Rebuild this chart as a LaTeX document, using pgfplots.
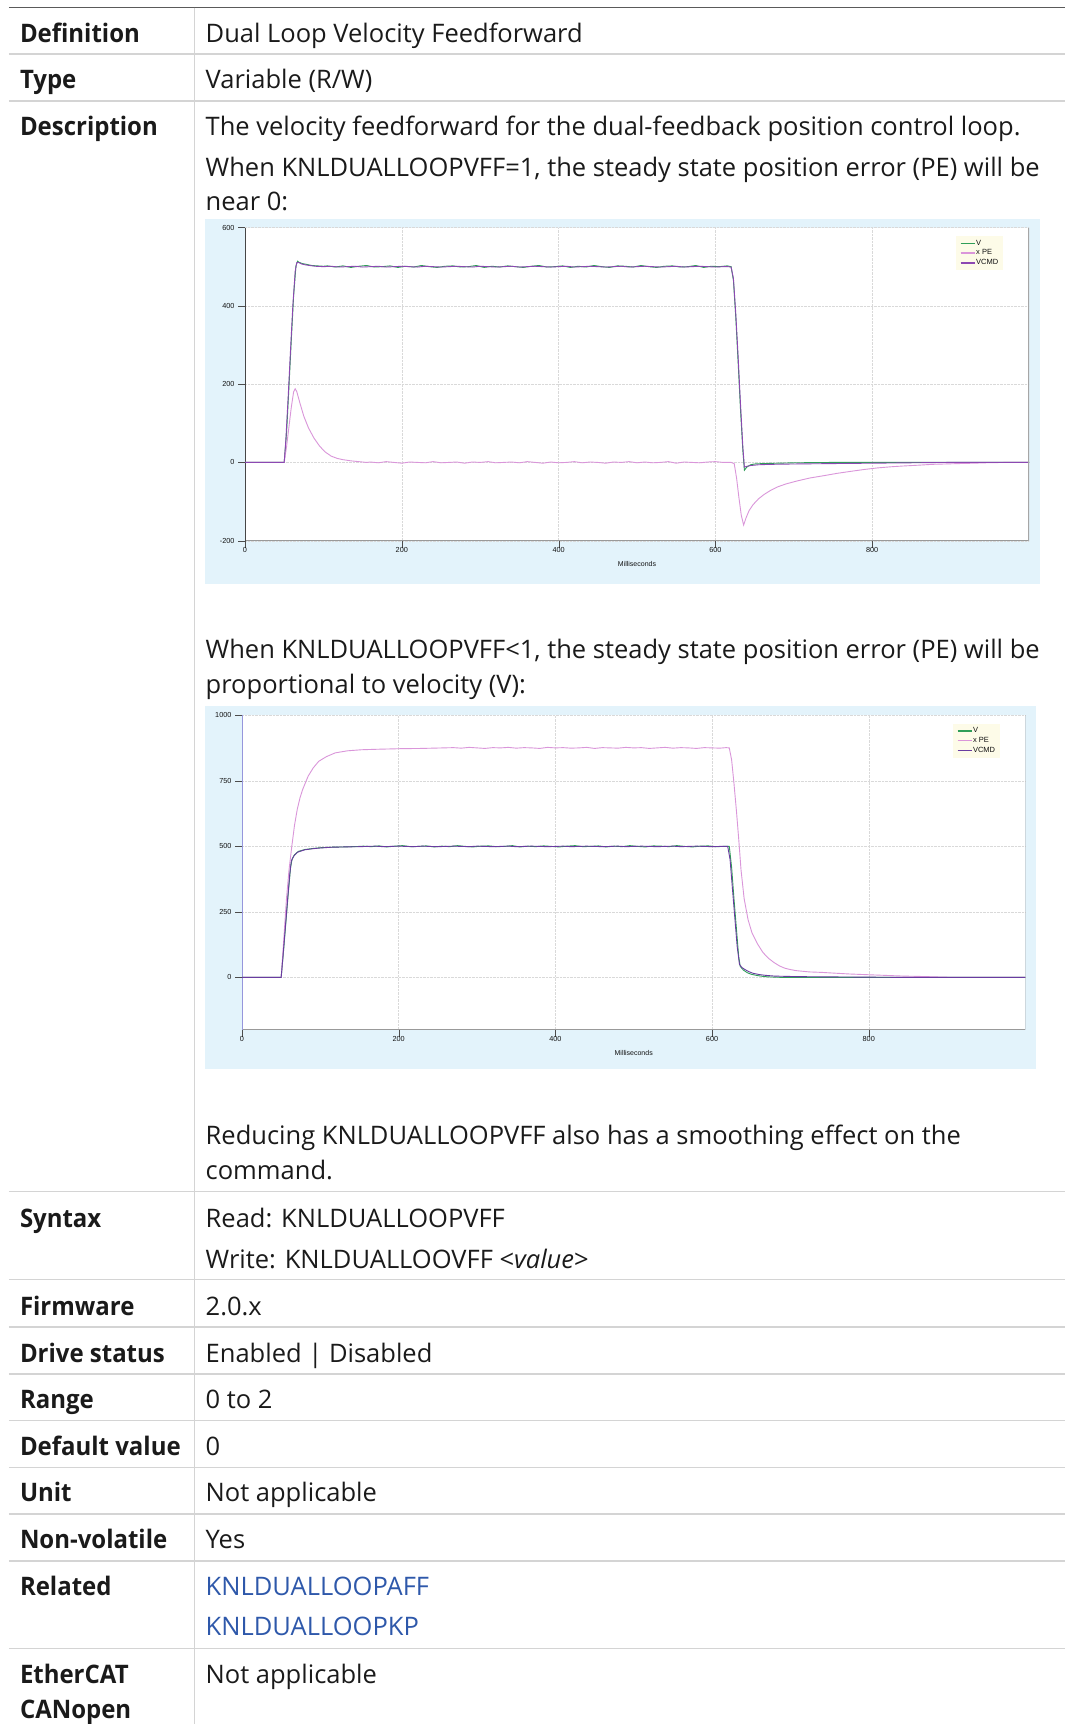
\documentclass[border=0pt]{standalone}
\usepackage{fontspec}
\setmainfont{Open Sans}[FakeStretch=1.0]
\newfontfamily\labfont{Open Sans}[FakeStretch=0.94]
\newfontfamily\tickfont{Liberation Sans}
\usepackage{pgfplots}
\pgfplotsset{compat=1.18}
\definecolor{txt}{RGB}{26,26,26}
\definecolor{sep}{RGB}{212,212,212}
\definecolor{topline}{RGB}{90,90,90}
\definecolor{bgblue}{RGB}{227,243,251}
\definecolor{linkc}{RGB}{46,88,170}
\definecolor{cV}{RGB}{47,158,88}
\definecolor{cPE}{RGB}{218,150,218}
\definecolor{cVC}{RGB}{140,72,178}
\definecolor{cVCb}{RGB}{105,60,160}
\definecolor{lav}{RGB}{150,150,220}
\definecolor{legfill}{RGB}{253,251,232}
\pgfplotsset{
  chart/.style={
    scale only axis, xmin=0, xmax=1000,
    axis x line*=bottom, axis y line*=left, axis line style={-},
    x axis line style={gray!80, line width=1pt},
    tick align=outside, major tick length=7pt,
    xtick={0,200,400,600,800},
    grid=major, grid style={densely dotted, gray!30},
    tick label style={font=\tickfont\fontsize{7.3}{8}\selectfont, text=gray!15!black},
    tick style={gray!60!black},
    xticklabel style={yshift=4pt},
    /pgf/number format/assume math mode=true,
    /pgf/number format/set thousands separator={},
    xlabel={Milliseconds},
    xlabel style={at={(axis description cs:0.5,0)}, anchor=center, yshift=-23pt, font=\tickfont\fontsize{7}{8}\selectfont, text=gray!15!black},
    axis background/.style={fill=white},
    legend cell align=left,
    legend style={fill=legfill, draw=none, font=\tickfont\fontsize{7.5}{8}\selectfont, text=gray!15!black, inner xsep=4pt, inner ysep=3pt, row sep=1.5pt, nodes={inner sep=0.8pt}},
    legend image code/.code={\draw[#1, line width=1.5pt] (0pt,0pt) -- (14pt,0pt);},
    every axis plot/.append style={line width=0.9pt},
  }
}
\tikzset{
  lab/.style={anchor=base west, inner sep=0pt, font=\labfont\bfseries\fontsize{25.5}{30}\selectfont, text=txt},
  val/.style={anchor=base west, inner sep=0pt, font=\fontsize{25.5}{30}\selectfont, text=txt},
}
\begin{document}
\begin{tikzpicture}[x=1pt,y=1pt]
\useasboundingbox (0,0) rectangle (1065,-1724);
% table lines
\draw[topline, line width=1.3pt] (8.8,-7.7) -- (1065,-7.7);
\foreach \yy in {53.9,101.1,1191.5,1279.5,1327,1373.8,1420.4,1467.2,1513.9,1561,1648.3}{
  \draw[sep, line width=1.4pt] (8.8,-\yy) -- (1065,-\yy);
}
\draw[sep, line width=1.4pt] (194.5,-7.7) -- (194.5,-1724);
% labels
\node[lab] at (19.8,-42) {Definition};
\node[val] at (205.5,-42) {Dual Loop Velocity Feedforward};
\node[lab] at (19.8,-88.5) {Type};
\node[val] at (205.5,-88.5) {Variable (R/W)};
\node[lab] at (19.8,-135.5) {Description};
\node[val] at (205.5,-135.5) {The velocity feedforward for the dual-feedback position control loop.};
\node[val] at (205.5,-176) {When KNLDUALLOOPVFF=1, the steady state position error (PE) will be};
\node[val] at (205.5,-210.5) {near 0:};
\node[val] at (205.5,-658.5) {When KNLDUALLOOPVFF<1, the steady state position error (PE) will be};
\node[val] at (205.5,-693.5) {proportional to velocity (V):};
\node[val] at (205.5,-1144) {Reducing KNLDUALLOOPVFF also has a smoothing effect on the};
\node[val] at (205.5,-1179) {command.};
\node[lab] at (19.8,-1227) {Syntax};
\node[val] at (205.5,-1227) {Read: KNLDUALLOOPVFF};
\node[val] at (205.5,-1268) {Write: KNLDUALLOOVFF <\textit{value}>};
\node[lab] at (19.8,-1315.5) {Firmware};
\node[val] at (205.5,-1315.5) {2.0.x};
\node[lab] at (19.8,-1362.5) {Drive status};
\node[val] at (205.5,-1362.5) {Enabled | Disabled};
\node[lab] at (19.8,-1408.5) {Range};
\node[val] at (205.5,-1408.5) {0 to 2};
\node[lab] at (19.8,-1455) {Default value};
\node[val] at (205.5,-1455) {0};
\node[lab] at (19.8,-1501.5) {Unit};
\node[val] at (205.5,-1501.5) {Not applicable};
\node[lab] at (19.8,-1548.5) {Non-volatile};
\node[val] at (205.5,-1548.5) {Yes};
\node[lab] at (19.8,-1595.5) {Related};
\node[val, text=linkc] at (205.5,-1595.5) {KNLDUALLOOPAFF};
\node[val, text=linkc] at (205.5,-1635) {KNLDUALLOOPKP};
\node[lab] at (19.8,-1683) {EtherCAT};
\node[val] at (205.5,-1683) {Not applicable};
\node[lab] at (19.8,-1718) {CANopen};
% chart backgrounds
\fill[bgblue] (205,-218.5) rectangle (1040,-583.5);
\fill[bgblue] (205,-705.5) rectangle (1036,-1068.5);
% chart 1
\begin{axis}[chart, at={(245pt,-540.7pt)}, anchor=south west,
  width=784pt, height=313.2pt, ymin=-200, ymax=600, ytick={-200,0,200,400,600},
  y axis line style={gray!55!black, line width=1pt},
  legend style={at={(0.9065,0.973)}, anchor=north west}]
\addplot[cV] coordinates {(0,0)(50,0)(53,75)(56,190)(59,310)(62,425)(65,502)(67,514)(69,511)(73,508)(78,506)(85,503)(92,502)(100,501)
(105,502)(115,499)(125,502)(135,498)(145,501)(155,503)(165,499)(175,500)(185,502)(195,498)(205,501)(215,499)(225,503)(235,500)(245,498)(255,501)(265,502)(275,499)(285,500)(295,503)(305,498)(315,501)(325,499)(335,502)(345,500)(355,498)(365,501)(375,503)(385,499)(395,500)(405,502)(415,498)(425,501)(435,499)(445,503)(455,500)(465,498)(475,502)(485,501)(495,499)(505,503)(515,500)(525,498)(535,501)(545,502)(555,499)(565,500)(575,503)(585,498)(595,501)(605,500)(615,502)
(620,500)(623,465)(626,370)(629,255)(632,135)(635,30)(637,-20)(640,-12)(645,-6)(650,-4)(660,-3)(680,-2)(700,-1)(750,0)(1000,0)};
\addlegendentry{V}
\addplot[cPE] coordinates {(0,0)(50,0)(53,40)(56,90)(59,140)(62,180)(64,188)(66,181)(70,152)(75,118)(81,88)(88,62)(95,42)(102,27)(110,16)(118,10)(125,7)(135,4)(145,2)(155,0)
(160,1)(170,-1)(180,2)(190,0)(200,-2)(210,1)(220,0)(230,-1)(240,2)(250,-1)(260,0)(270,1)(280,-2)(290,1)(300,0)(310,2)(320,-1)(330,0)(340,1)(350,-1)(360,2)(370,0)(380,-2)(390,1)(400,-1)(410,0)(420,2)(430,-1)(440,1)(450,0)(460,-2)(470,1)(480,0)(490,2)(500,-1)(510,1)(520,-1)(530,0)(540,2)(550,-2)(560,1)(570,0)(580,-1)(590,1)(600,2)(610,0)
(620,0)(624,-3)(627,-40)(630,-90)(633,-135)(636,-160)(639,-142)(643,-123)(648,-108)(655,-93)(662,-82)(670,-72)(680,-62)(690,-55)(703,-48)(720,-40)(738,-34)(755,-28)(772,-23)(790,-18)(807,-14)(825,-11)(841,-9)(860,-7)(876,-5)(893,-4)(910,-3)(930,-2)(945,-1)(970,0)(1000,0)};
\addlegendentry{x PE}
\addplot[cVC] coordinates {(0,0)(50,0)(52,55)(55,165)(58,285)(61,400)(64,488)(66,510)(68,511)(72,507)(76,505)(82,503)(90,501)(100,500)
(110,501)(120,499)(130,500)(140,501)(150,499)(160,500)(170,501)(180,499)(190,500)(200,501)(210,500)(220,499)(230,501)(240,500)(250,499)(260,500)(270,501)(280,500)(290,499)(300,501)(310,500)(320,499)(330,500)(340,501)(350,499)(360,500)(370,501)(380,500)(390,499)(400,500)(410,501)(420,499)(430,500)(440,501)(450,500)(460,499)(470,500)(480,501)(490,499)(500,500)(510,501)(520,500)(530,499)(540,500)(550,501)(560,499)(570,500)(580,501)(590,500)(600,499)(610,500)
(616,500)(620,499)(623,470)(626,380)(629,270)(632,150)(635,40)(637,-12)(640,-10)(645,-8)(655,-6)(670,-5)(700,-4)(750,-3)(800,-2)(850,-1)(900,0)(1000,0)};
\addlegendentry{VCMD}
\draw[gray!70, line width=1.5pt] (rel axis cs:1,0) -- (rel axis cs:1,1);
\end{axis}
% chart 2
\begin{axis}[chart, at={(242pt,-1029.8pt)}, anchor=south west,
  width=783.4pt, height=314.4pt, ymin=-200, ymax=1000, ytick={0,250,500,750,1000},
  y axis line style={lav, line width=1pt},
  legend style={at={(0.907,0.974)}, anchor=north west}]
\addplot[cV] coordinates {(0,0)(50,0)(53,100)(56,210)(59,320)(62,420)(64,452)(67,468)(72,481)(80,488)(90,492)(100,495)(115,497)(130,498)(150,500)
(155,501)(165,499)(175,502)(185,498)(195,501)(205,503)(215,499)(225,500)(235,502)(245,498)(255,501)(265,499)(275,503)(285,500)(295,498)(305,501)(315,502)(325,499)(335,500)(345,503)(355,498)(365,501)(375,499)(385,502)(395,500)(405,498)(415,501)(425,503)(435,499)(445,500)(455,502)(465,498)(475,501)(485,499)(495,503)(505,500)(515,498)(525,502)(535,501)(545,499)(555,503)(565,500)(575,498)(585,501)(595,502)(605,499)(615,500)
(622,500)(625,420)(628,300)(631,190)(634,80)(636,42)(640,28)(645,18)(650,12)(658,7)(665,4)(672,2)(690,0)(707,0)(1000,0)};
\addlegendentry{V}
\addplot[cPE] coordinates {(0,0)(50,0)(53,130)(56.7,298)(60,410)(63.6,501)(67,580)(70.5,641)(74,685)(77.4,717)(84.4,768)(91,800)(98,825)(108,843)(119,857)(135,865)(153,869)(175,871)(202,873)(230,874)(257,876)
(270,877)(280,875)(290,878)(300,876)(310,874)(320,877)(330,876)(340,878)(350,875)(360,877)(370,876)(380,874)(390,878)(400,876)(410,877)(420,875)(430,876)(440,878)(450,874)(460,877)(470,876)(480,875)(490,878)(500,876)(510,877)(520,874)(530,876)(540,878)(550,875)(560,877)(570,876)(580,874)(590,877)(600,876)(610,875)(618,877)
(622,876)(625,830)(628,740)(631,640)(634,530)(637,410)(641,300)(646,220)(651,170)(658,128)(665,95)(672,73)(679,57)(686,44)(693,35)(700,30)(707,26)(724,21)(741,19)(758,16)(776,13)(793,11)(810,9)(828,7)(845,5)(862,4)(880,2.5)(897,1)(914,0)(1000,0)};
\addlegendentry{x PE}
\addplot[cVCb] coordinates {(0,0)(50,0)(52,70)(55,180)(58,290)(61,395)(63,445)(66,463)(71,478)(80,487)(90,491)(100,494)(115,497)(130,498)(150,499)
(160,500)(170,501)(180,499)(190,500)(200,501)(210,500)(220,499)(230,501)(240,500)(250,499)(260,500)(270,501)(280,500)(290,499)(300,501)(310,500)(320,499)(330,500)(340,501)(350,499)(360,500)(370,501)(380,500)(390,499)(400,500)(410,501)(420,499)(430,500)(440,501)(450,500)(460,499)(470,500)(480,501)(490,499)(500,500)(510,501)(520,500)(530,499)(540,500)(550,501)(560,499)(570,500)(580,501)(590,500)(600,499)(610,500)
(620,500)(623,450)(626,340)(629,230)(632,120)(635,50)(638,38)(642,30)(647,22)(652,16)(660,11)(668,8)(680,5)(695,4)(710,3)(750,2)(800,1)(850,0)(1000,0)};
\addlegendentry{VCMD}
\draw[gray!70, line width=1.5pt] (rel axis cs:1,0) -- (rel axis cs:1,1);
\end{axis}
\end{tikzpicture}
\end{document}
